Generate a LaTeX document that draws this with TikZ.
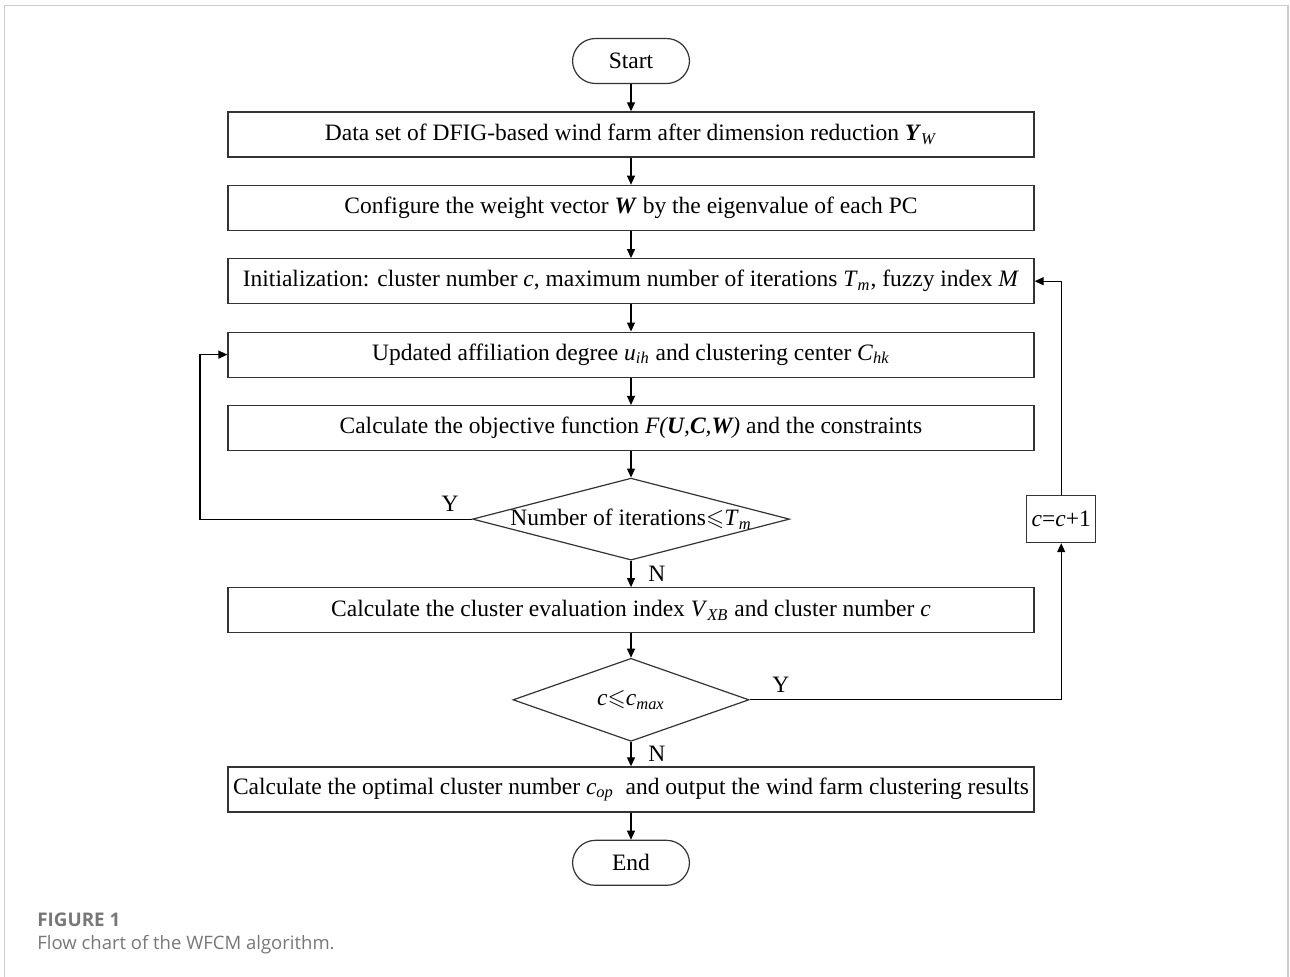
\documentclass[tikz,border=0pt]{standalone}
\usepackage{amssymb}
\usepackage{fontspec}
\setmainfont{Liberation Serif}
\newfontfamily\capfont{Open Sans}
\usetikzlibrary{arrows.meta,positioning,shapes.geometric}
\definecolor{capgray}{HTML}{777777}
\definecolor{framegray}{HTML}{CCCCCC}
\newcommand{\itsub}[2]{\textit{#1}\textsubscript{\textit{#2}}}

\begin{document}
\begin{tikzpicture}[
    x=0.5pt, y=-0.5pt,
    node distance=13.6pt,
    font=\fontsize{11.75}{13}\selectfont,
    block/.style={draw=black!80, line width=0.6pt, minimum width=403pt, minimum height=22.5pt, inner sep=0pt},
    term/.style={draw=black!80, line width=0.6pt, rounded corners=11.5pt, minimum width=58.5pt, minimum height=22.5pt},
    decision/.style={diamond, draw=black!80, line width=0.6pt, inner sep=0pt},
    arrow/.style={-{Triangle[length=4.5pt,width=4pt]}, line width=0.6pt},
]
    \useasboundingbox (0,0) rectangle (1290,976);
    \draw[framegray, line width=0.9pt] (4.5,990) |- (1288,5.5) -- (1288,990);

    \node[term] (start) at (631,61) {Start};
    \node[block, below=of start] (ywdata) {Data set of DFIG-based wind farm after dimension reduction \textbf{\textit{Y}}\textsubscript{\textit{W}}};
    \node[block, below=of ywdata] (weight) {Configure the weight vector \textbf{\textit{W}} by the eigenvalue of each PC};
    \node[block, below=of weight] (init) {Initialization: cluster number \textit{c}, maximum number of iterations \itsub{T}{m}, fuzzy index \textit{M}};
    \node[block, below=of init] (update) {Updated affiliation degree \itsub{u}{ih} and clustering center \itsub{C}{hk}};
    \node[block, below=of update] (objfun) {Calculate the objective function \textit{F(\textbf{U},\textbf{C},\textbf{W})} and the constraints};
    \node[decision, minimum width=158.5pt, minimum height=41pt, below=13.2pt of objfun,
        label=center:{Number of iterations$\leqslant$\itsub{T}{m}}] (iterchk) {};
    \node[block, below=13.2pt of iterchk] (evalidx) {Calculate the cluster evaluation index \itsub{V}{XB} and cluster number \textit{c}};
    \node[decision, minimum width=118pt, minimum height=41.5pt, below=12.2pt of evalidx,
        label=center:{\textit{c}$\leqslant$\itsub{c}{max}}] (cmaxchk) {};
    \node[block, below=12.2pt of cmaxchk] (optimal) {Calculate the optimal cluster number \itsub{c}{op}\ \ and output the wind farm clustering results};
    \node[term, below=of optimal] (stop) {End};
    \node[draw=black!80, line width=0.6pt, inner sep=2pt, minimum width=34.5pt, minimum height=23.5pt, right=118pt of iterchk] (cinc) {\textit{c}=\textit{c}+1};

    \foreach \a/\b in {start/ywdata, ywdata/weight, weight/init, init/update, update/objfun, objfun/iterchk, evalidx/cmaxchk, optimal/stop}
        \draw[arrow] (\a) -- (\b);
    \draw[arrow] (iterchk) -- node[right=5pt] {N} (evalidx);
    \draw[arrow] (cmaxchk) -- node[right=5pt] {N} (optimal);

    % loops back
    \draw[arrow] (iterchk.west) -- node[above, pos=0.08] {Y} ++(-272,0) |- (update.west);
    \draw[arrow] (cmaxchk.east) -| node[above, pos=0.05] {Y} (cinc.south);
    \draw[arrow] (cinc.north) |- (init.east);

    \node[anchor=base west, inner sep=0pt, text=capgray, font={\capfont\fontsize{9.4}{11}\selectfont\bfseries}] (figno) at (37,926) {FIGURE 1};
    \node[anchor=base west, inner sep=0pt, text=capgray, font={\capfont\fontsize{9.25}{11}\selectfont}] (figcap) at (37,949) {Flow chart of the WFCM algorithm.};
\end{tikzpicture}
\end{document}
